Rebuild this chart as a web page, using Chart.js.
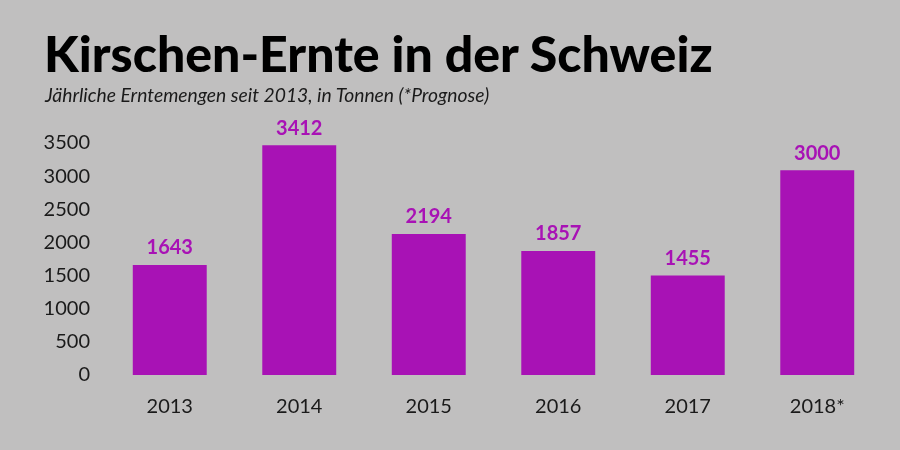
<!DOCTYPE html>
<html>
<head>
<meta charset="utf-8">
<script src="https://cdn.jsdelivr.net/npm/chart.js@4/dist/chart.umd.min.js"></script>
<style>
    html, body { margin: 0; padding: 0; background: #c0bfbf; }
    #wrap { position: relative; width: 900px; height: 450px; overflow: hidden; }
    #title { position: absolute; left: 44px; top: 28px; font: 900 50px/50px Lato, sans-serif; color: #000; white-space: nowrap; }
    #subtitle { position: absolute; left: 45px; top: 85px; font: italic 400 19.3px/19px Lato, sans-serif; color: #1a1a1a; white-space: nowrap; }
    #chart { position: absolute; left: 0; top: 0; }
</style>
</head>
<body>
<div id="wrap">
    <canvas id="chart" width="900" height="450"></canvas>
    <div id="title">Kirschen-Ernte in der Schweiz</div>
    <div id="subtitle">Jährliche Erntemengen seit 2013, in Tonnen (*Prognose)</div>
</div>
<script>
// Data
const years = ['2013', '2014', '2015', '2016', '2017', '2018*'];
const barHeights = [1660, 3465, 2127, 1872, 1500, 3090];
const valueLabels = ['1643', '3412', '2194', '1857', '1455', '3000'];
const yTicks = [0, 500, 1000, 1500, 2000, 2500, 3000, 3500];

const purple = '#a812b5';
const textColor = '#1a1a1a';

// Draw the printed value above each bar
const valueLabelPlugin = {
    id: 'valueLabels',
    afterDatasetsDraw(chart) {
        const ctx = chart.ctx;
        const meta = chart.getDatasetMeta(0);
        ctx.save();
        ctx.fillStyle = purple;
        ctx.font = 'bold 20px Lato, sans-serif';
        ctx.textAlign = 'center';
        ctx.textBaseline = 'middle';
        meta.data.forEach((bar, i) => {
            ctx.fillText(valueLabels[i], bar.x, bar.y - 17);
        });
        ctx.restore();
    }
};

const ctx = document.getElementById('chart').getContext('2d');
new Chart(ctx, {
    type: 'bar',
    data: {
        labels: years,
        datasets: [{
            data: barHeights,
            backgroundColor: purple,
            borderWidth: 0,
            categoryPercentage: 1,
            barPercentage: 0.571
        }]
    },
    options: {
        responsive: false,
        animation: false,
        layout: { padding: { top: 143, right: 18, bottom: 0, left: 0 } },
        plugins: {
            legend: { display: false },
            tooltip: { enabled: false }
        },
        scales: {
            x: {
                grid: { display: false, drawTicks: false },
                border: { display: false },
                ticks: {
                    color: textColor,
                    padding: 20,
                    font: { family: 'Lato', size: 20 }
                },
                afterFit(scale) { scale.height = 75; }
            },
            y: {
                min: 0,
                max: 3500,
                grid: { display: false, drawTicks: false },
                border: { display: false },
                afterBuildTicks(scale) { scale.ticks = yTicks.map(v => ({ value: v })); },
                ticks: {
                    color: textColor,
                    padding: 15,
                    font: { family: 'Lato', size: 20 },
                    callback: (value) => String(value)
                },
                afterFit(scale) { scale.width = 105; }
            }
        }
    },
    plugins: [valueLabelPlugin]
});
</script>
</body>
</html>
